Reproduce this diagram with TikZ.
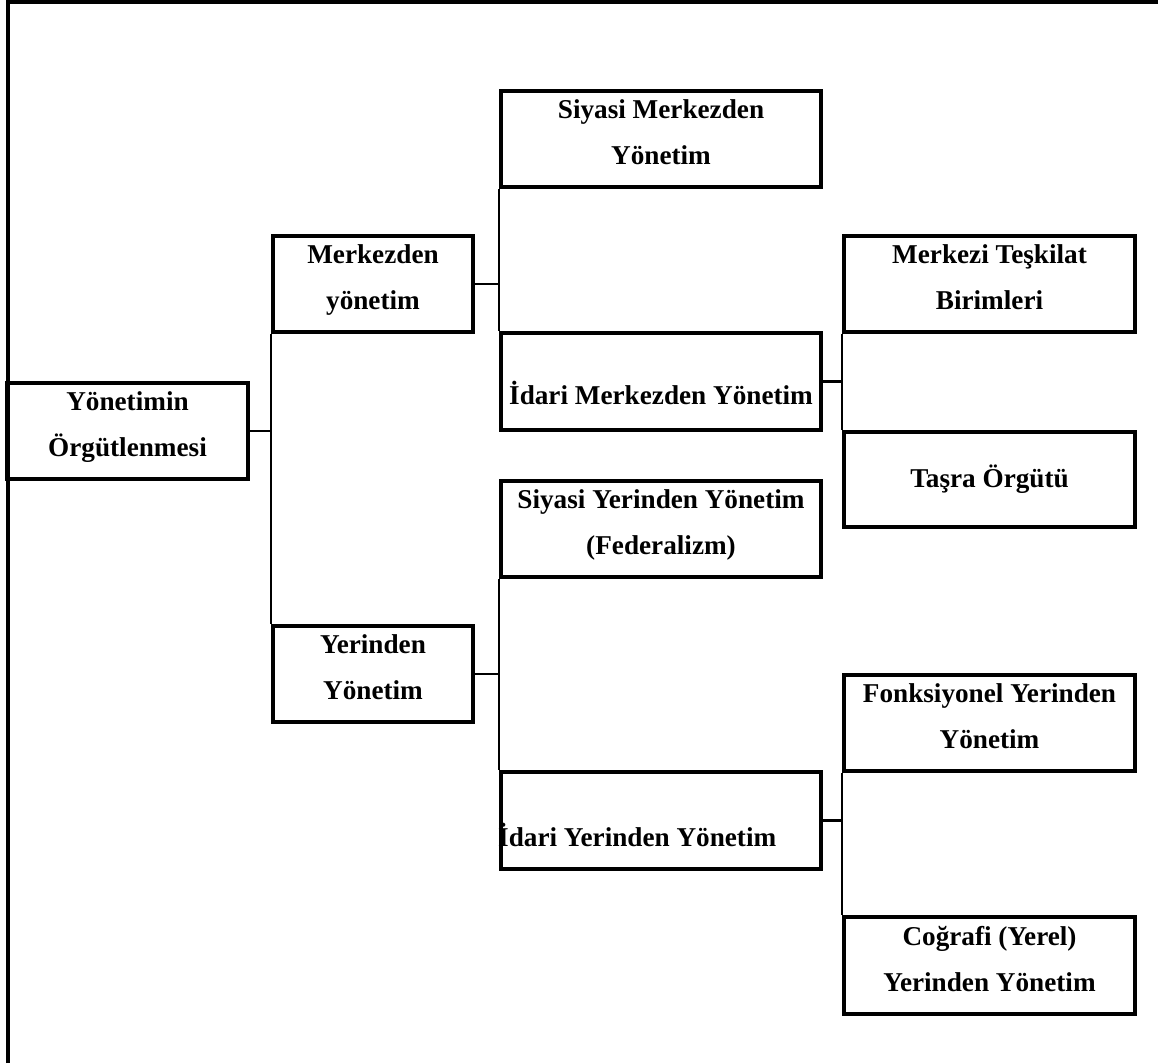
\documentclass[tikz,border=0pt]{standalone}
\usepackage{fontspec}
\setmainfont{Liberation Serif}
\begin{document}
\begin{tikzpicture}[x=1pt,y=-1pt,
  txt/.style={font=\bfseries\fontsize{27.2}{46}\selectfont},
  box/.style={draw, line width=3.6pt, inner sep=0pt, align=center, txt},
  box2/.style={box, execute at end node={\rule[-13pt]{0pt}{13pt}}},
  conn/.style={line width=2.4pt},
  frame/.style={line width=4pt}]
\useasboundingbox (0,0) rectangle (1158,1063);
\draw[frame] (7.5,1063) -- (7.5,1.5) -- (1158,1.5);

\node[box2, minimum width=241, minimum height=96] (yon) at (127.5,431) {Yönetimin\\Örgütlenmesi};
\node[box2, minimum width=200, minimum height=96] (mer) at (373,284) {Merkezden\\yönetim};
\node[box2, minimum width=200, minimum height=96] (yer) at (373,674) {Yerinden\\Yönetim};
\node[box2, minimum width=320, minimum height=96] (sm) at (661,139) {Siyasi Merkezden\\Yönetim};
\node[box2, minimum width=320, minimum height=97] (im) at (661,381.5) {\rule{0pt}{12pt}\\İdari Merkezden Yönetim};
\node[box2, minimum width=320, minimum height=96] (sy) at (661,529) {Siyasi Yerinden Yönetim\\(Federalizm)};
\node[box, minimum width=320, minimum height=97] (iy) at (661,820.5) {};
\node[anchor=base west, inner sep=0pt, txt] (iyt) at (498,846) {İdari Yerinden Yönetim};
\node[box2, minimum width=291, minimum height=96] (mt) at (989.5,284) {Merkezi Teşkilat\\Birimleri};
\node[box, minimum width=291, minimum height=95] (ts) at (989.5,479.5) {Taşra Örgütü};
\node[box2, minimum width=291, minimum height=96] (fy) at (989.5,723) {Fonksiyonel Yerinden\\Yönetim};
\node[box2, minimum width=291, minimum height=97] (cy) at (989.5,965.5) {Coğrafi (Yerel)\\Yerinden Yönetim};

\draw[conn] (yon.east) -- (yon.east -| mer.west);
\draw[conn] (mer.south west) -- (yer.north west);
\draw[conn] (mer.east) -- (mer.east -| sm.west);
\draw[conn] (sm.south west) -- (im.north west);
\draw[conn] (yer.east) -- (yer.east -| sy.west);
\draw[conn] (sy.south west) -- (iy.north west);
\draw[conn] (im.east) -- (im.east -| mt.west);
\draw[conn] (mt.south west) -- (ts.north west);
\draw[conn] (iy.east) -- (iy.east -| fy.west);
\draw[conn] (fy.south west) -- (cy.north west);
\end{tikzpicture}
\end{document}
